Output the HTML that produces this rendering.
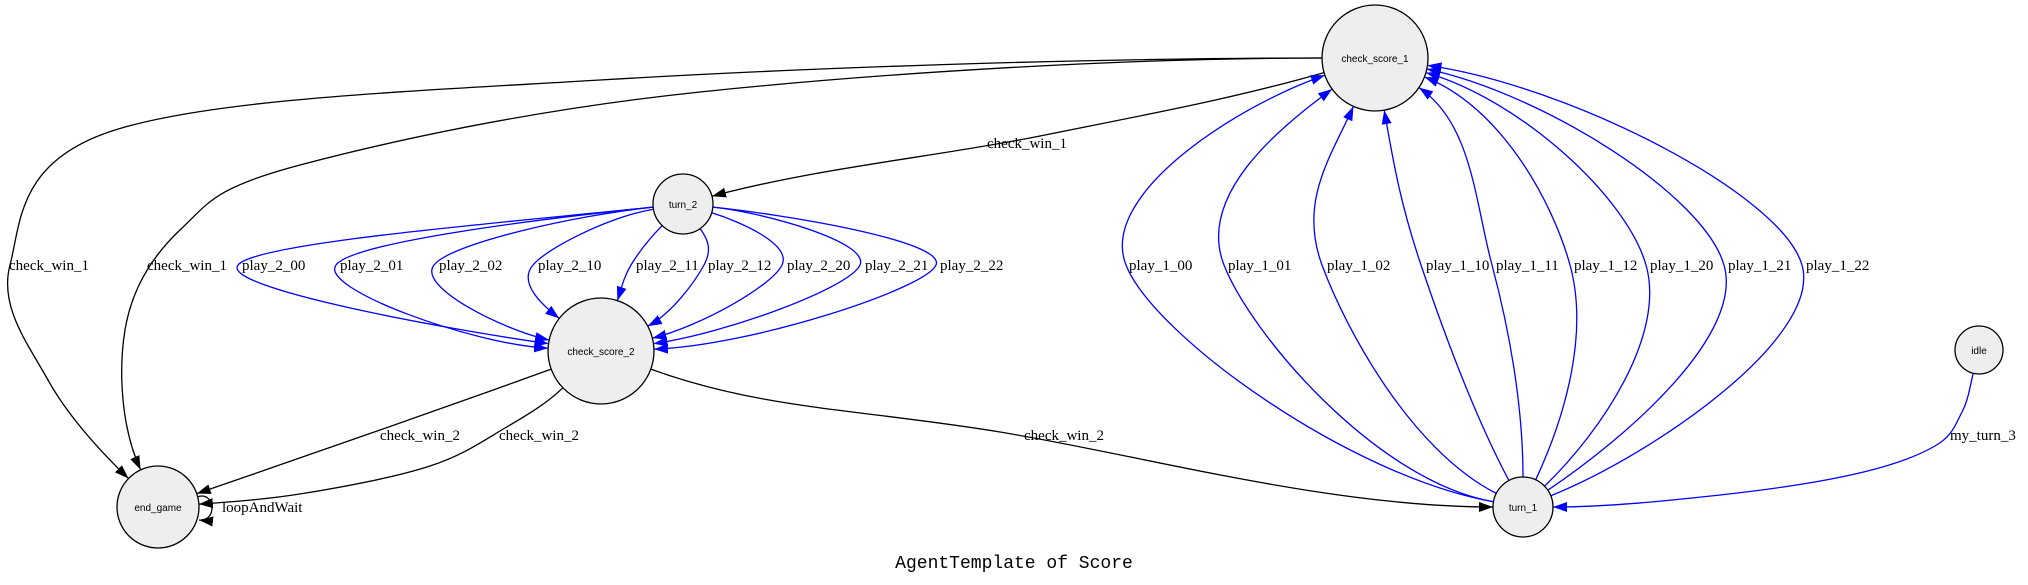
<!DOCTYPE html>
<html><head><meta charset="utf-8"><style>
html,body{margin:0;padding:0;background:#fff;}
svg{display:block;}
.lbl{font-family:"Liberation Serif",serif;font-size:15px;fill:#000;}
.nt{font-family:"Liberation Sans",sans-serif;font-size:10px;fill:#000;}
</style></head><body>
<svg id="g" width="2028" height="585" viewBox="0 0 2028 585" xmlns="http://www.w3.org/2000/svg">
<defs>
<marker id="ab" markerWidth="14" markerHeight="10" refX="14" refY="5" orient="auto" markerUnits="userSpaceOnUse"><path d="M0,0 L14,5 L0,10 z" fill="#000"/></marker>
<marker id="au" markerWidth="14" markerHeight="10" refX="14" refY="5" orient="auto" markerUnits="userSpaceOnUse"><path d="M0,0 L14,5 L0,10 z" fill="#00f"/></marker>
</defs>
<g id="edges"></g>
<g id="nodes"></g>
<text x="1014" y="568" text-anchor="middle" style="font-family:'Liberation Mono',monospace;font-size:18px">AgentTemplate of Score</text>
</svg>
<script>
const nodeNames = ["check_score_1","turn_2","check_score_2","end_game","turn_1","idle"];
const nodeX = [1375,683,601,158,1523,1979];
const nodeY = [58,204,351,507,507,350];
const nodeR = [53,30,53,41,30,24];
const edgeFrom = [0,0,0, 1,1,1,1,1,1,1,1,1, 4,4,4,4,4,4,4,4,4, 2,2,2, 5];
const edgeTo   = [3,3,1, 2,2,2,2,2,2,2,2,2, 0,0,0,0,0,0,0,0,0, 3,3,4, 4];
const edgeLabel = ["check_win_1","check_win_1","check_win_1",
 "play_2_00","play_2_01","play_2_02","play_2_10","play_2_11","play_2_12","play_2_20","play_2_21","play_2_22",
 "play_1_00","play_1_01","play_1_02","play_1_10","play_1_11","play_1_12","play_1_20","play_1_21","play_1_22",
 "check_win_2","check_win_2","check_win_2","my_turn_3"];
const startAng = [180,180,164, 174,174,174,170,134,55,17,6,6, 190,190,207,242,270,295,316,326,338, 160,136,20, 104];
const endAng   = [224,245,345, 188,183,192,218,288,332,346,352,358, 161,144,114,80,34,21,16,12,8, 341,356,180, 0];
const viaX = [[600,115,10,48],[700,300,180,125],[1040], [238],[336],[434],[533],[631],[704],[782],[860],[936], [1126],[1224],[1322],[1421],[1492],[1570],[1646],[1724],[1802], [380],[505,430,306],[1000],[1962,1935,1855,1720]];
const viaY = [[80,130,265,380],[92,165,230,330],[136], [265],[265],[265],[265],[265],[265],[265],[265],[265], [265],[265],[265],[265],[265],[265],[265],[265],[265], [430],[428,466,493],[432],[412,446,474,495]];
const labelX = [9,147,987, 242,340,439,538,636,708,787,865,940, 1129,1228,1327,1426,1496,1574,1650,1728,1806, 380,499,1024,1950];
const labelY = [270,270,148, 270,270,270,270,270,270,270,270,270, 270,270,270,270,270,270,270,270,270, 440,440,440,440];
const edgeColor = ["#000","#000","#000","#00f","#00f","#00f","#00f","#00f","#00f","#00f","#00f","#00f","#00f","#00f","#00f","#00f","#00f","#00f","#00f","#00f","#00f","#000","#000","#000","#00f"];
const NS="http://www.w3.org/2000/svg";
const eg=document.getElementById('edges'), ng=document.getElementById('nodes');
function unit(deg){const r=deg*Math.PI/180;return [Math.cos(r),Math.sin(r)];}
function onNode(i,deg){const u=unit(deg);return [nodeX[i]+u[0]*nodeR[i],nodeY[i]+u[1]*nodeR[i]];}
function catmull(P,u1,u2){
  const n=P.length, T=[];
  for(let i=0;i<n;i++){
    if(i==0){const L=Math.hypot(P[1][0]-P[0][0],P[1][1]-P[0][1]);T.push([u1[0]*L,u1[1]*L]);}
    else if(i==n-1){const L=Math.hypot(P[n-1][0]-P[n-2][0],P[n-1][1]-P[n-2][1]);T.push([-u2[0]*L,-u2[1]*L]);}
    else T.push([(P[i+1][0]-P[i-1][0])*0.5,(P[i+1][1]-P[i-1][1])*0.5]);
  }
  let d=`M${P[0][0]},${P[0][1]}`;
  for(let i=0;i<n-1;i++){
    d+=` C${P[i][0]+T[i][0]/3},${P[i][1]+T[i][1]/3} ${P[i+1][0]-T[i+1][0]/3},${P[i+1][1]-T[i+1][1]/3} ${P[i+1][0]},${P[i+1][1]}`;
  }
  return d;
}
for(let k=0;k<edgeFrom.length;k++){
  const a=edgeFrom[k],b=edgeTo[k],vx=viaX[k],vy=viaY[k];
  const V=vx.map((x,i)=>[x,vy[i]]);
  const S=onNode(a,startAng[k]), E=onNode(b,endAng[k]);
  const u1=unit(startAng[k]), u2=unit(endAng[k]);
  const p=document.createElementNS(NS,'path');
  p.setAttribute('d',catmull([S,...V,E],u1,u2));
  p.setAttribute('fill','none');p.setAttribute('stroke',edgeColor[k]);p.setAttribute('stroke-width','1.3');
  p.setAttribute('marker-end',edgeColor[k]=="#000"?'url(#ab)':'url(#au)');
  
  
  eg.appendChild(p);
  const t=document.createElementNS(NS,'text');
  t.setAttribute('x',labelX[k]);t.setAttribute('y',labelY[k]);t.setAttribute('class','lbl');
  t.textContent=edgeLabel[k];
  
  
  eg.appendChild(t);
}
const lp=document.createElementNS(NS,'path');
lp.setAttribute('d','M197,497 C215,490 218,522 199,520');
lp.setAttribute('fill','none');lp.setAttribute('stroke','#000');lp.setAttribute('stroke-width','1.3');lp.setAttribute('marker-end','url(#ab)');


eg.appendChild(lp);
const lt=document.createElementNS(NS,'text');
lt.setAttribute('x',222);lt.setAttribute('y',512);lt.setAttribute('class','lbl');lt.textContent='loopAndWait';


eg.appendChild(lt);
for(let i=0;i<nodeNames.length;i++){
  const g=document.createElementNS(NS,'g');
  
  
  const c=document.createElementNS(NS,'circle');
  c.setAttribute('cx',nodeX[i]);c.setAttribute('cy',nodeY[i]);c.setAttribute('r',nodeR[i]);
  c.setAttribute('fill','#eeeeee');c.setAttribute('stroke','#000');c.setAttribute('stroke-width','1.3');
  g.appendChild(c);
  const t=document.createElementNS(NS,'text');
  t.setAttribute('x',nodeX[i]);t.setAttribute('y',nodeY[i]+4);t.setAttribute('text-anchor','middle');t.setAttribute('class','nt');
  t.textContent=nodeNames[i];
  g.appendChild(t);
  ng.appendChild(g);
}
</script>
</body></html>
